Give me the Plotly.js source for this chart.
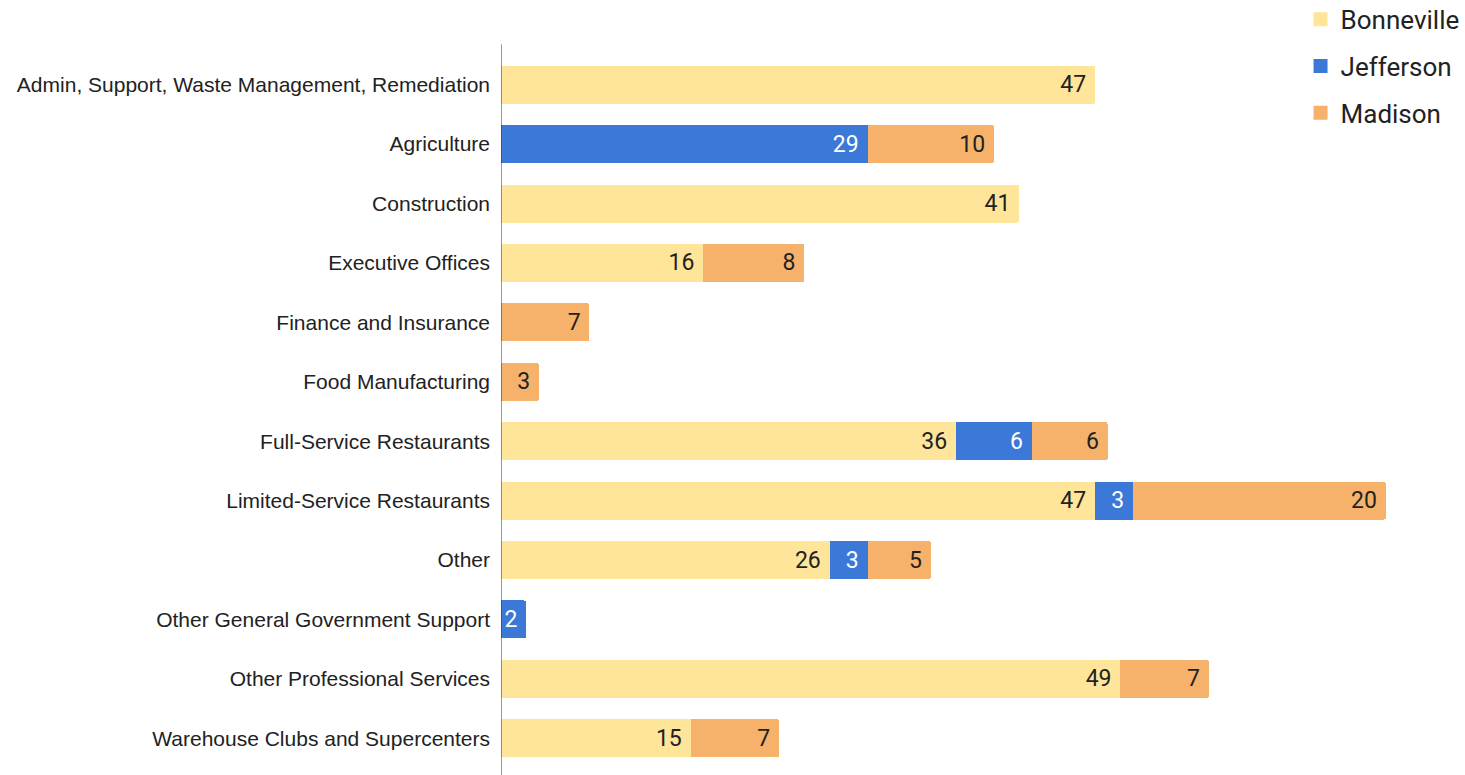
<!DOCTYPE html>
<html>
<head>
<meta charset="utf-8">
<script src="https://cdn.plot.ly/plotly-3.0.1.min.js"></script>
<style>html,body{margin:0;padding:0;background:#fff;}#chart{width:1465px;height:775px;}</style>
</head>
<body>
<div id="chart"></div>
<script>
const categories = [
  "Admin, Support, Waste Management, Remediation",
  "Agriculture",
  "Construction",
  "Executive Offices",
  "Finance and Insurance",
  "Food Manufacturing",
  "Full-Service Restaurants",
  "Limited-Service Restaurants",
  "Other",
  "Other General Government Support",
  "Other Professional Services",
  "Warehouse Clubs and Supercenters"
];
const bonneville = [47, null, 41, 16, null, null, 36, 47, 26, null, 49, 15];
const jefferson  = [null, 29, null, null, null, null, 6, 3, 3, 2, null, null];
const madison    = [null, 10, null, 8, 7, 3, 6, 20, 5, null, 7, 7];

const seriesNames = ["Bonneville", "Jefferson", "Madison"];
const seriesValues = [bonneville, jefferson, madison];
const seriesColors = ["#ffe599", "#3c78d8", "#f6b26b"];
const textColors = ["#222222", "#ffffff", "#222222"];

const barTraces = seriesNames.map((name, i) => ({
  type: "bar",
  orientation: "h",
  name: name,
  legendgroup: name,
  showlegend: false,
  y: categories,
  x: seriesValues[i],
  text: seriesValues[i].map(v => v == null ? "" : String(v) + "\u2005"),
  textposition: "inside",
  insidetextanchor: "end",
  textangle: 0,
  constraintext: "none",
  textfont: {family: "Roboto, sans-serif", size: 23, color: textColors[i]},
  marker: {color: seriesColors[i], line: {width: 0}, cornerradius: 2},
  hoverinfo: "x+y+name"
}));

// legend-only entries (square swatches)
const legendTraces = seriesNames.map((name, i) => ({
  type: "scatter",
  mode: "markers",
  name: name,
  legendgroup: name,
  showlegend: true,
  x: [null],
  y: [null],
  marker: {symbol: "square", size: 14, color: seriesColors[i], line: {width: 0}},
  hoverinfo: "skip"
}));

const layout = {
  width: 1465,
  height: 775,
  margin: {l: 501, r: 16, t: 55, b: 7, autoexpand: false},
  barmode: "stack",
  bargap: 0.36,
  paper_bgcolor: "#ffffff",
  plot_bgcolor: "#ffffff",
  showlegend: true,
  legend: {
    x: 0.8434, xanchor: "left",
    y: 1.083, yanchor: "top",
    font: {family: "Roboto, sans-serif", size: 26, color: "#222222"},
    tracegroupgap: 10,
    bgcolor: "rgba(0,0,0,0)"
  },
  xaxis: {
    range: [0, 75],
    showgrid: false,
    zeroline: false,
    showticklabels: false,
    ticks: "",
    showline: false,
    fixedrange: true
  },
  yaxis: {
    type: "category",
    autorange: "reversed",
    showgrid: false,
    zeroline: false,
    ticks: "",
    ticklabelstandoff: 10,
    tickfont: {family: "'Liberation Sans', Arial, sans-serif", size: 21, color: "#222222"},
    showline: false,
    fixedrange: true
  },
  shapes: [{
    type: "line", xref: "x", yref: "paper",
    x0: 0, x1: 0, y0: -0.02, y1: 1.015,
    line: {color: "#333333", width: 1}
  }]
};

Plotly.newPlot("chart", barTraces.concat(legendTraces), layout, {displayModeBar: false, staticPlot: true});
</script>
</body>
</html>
